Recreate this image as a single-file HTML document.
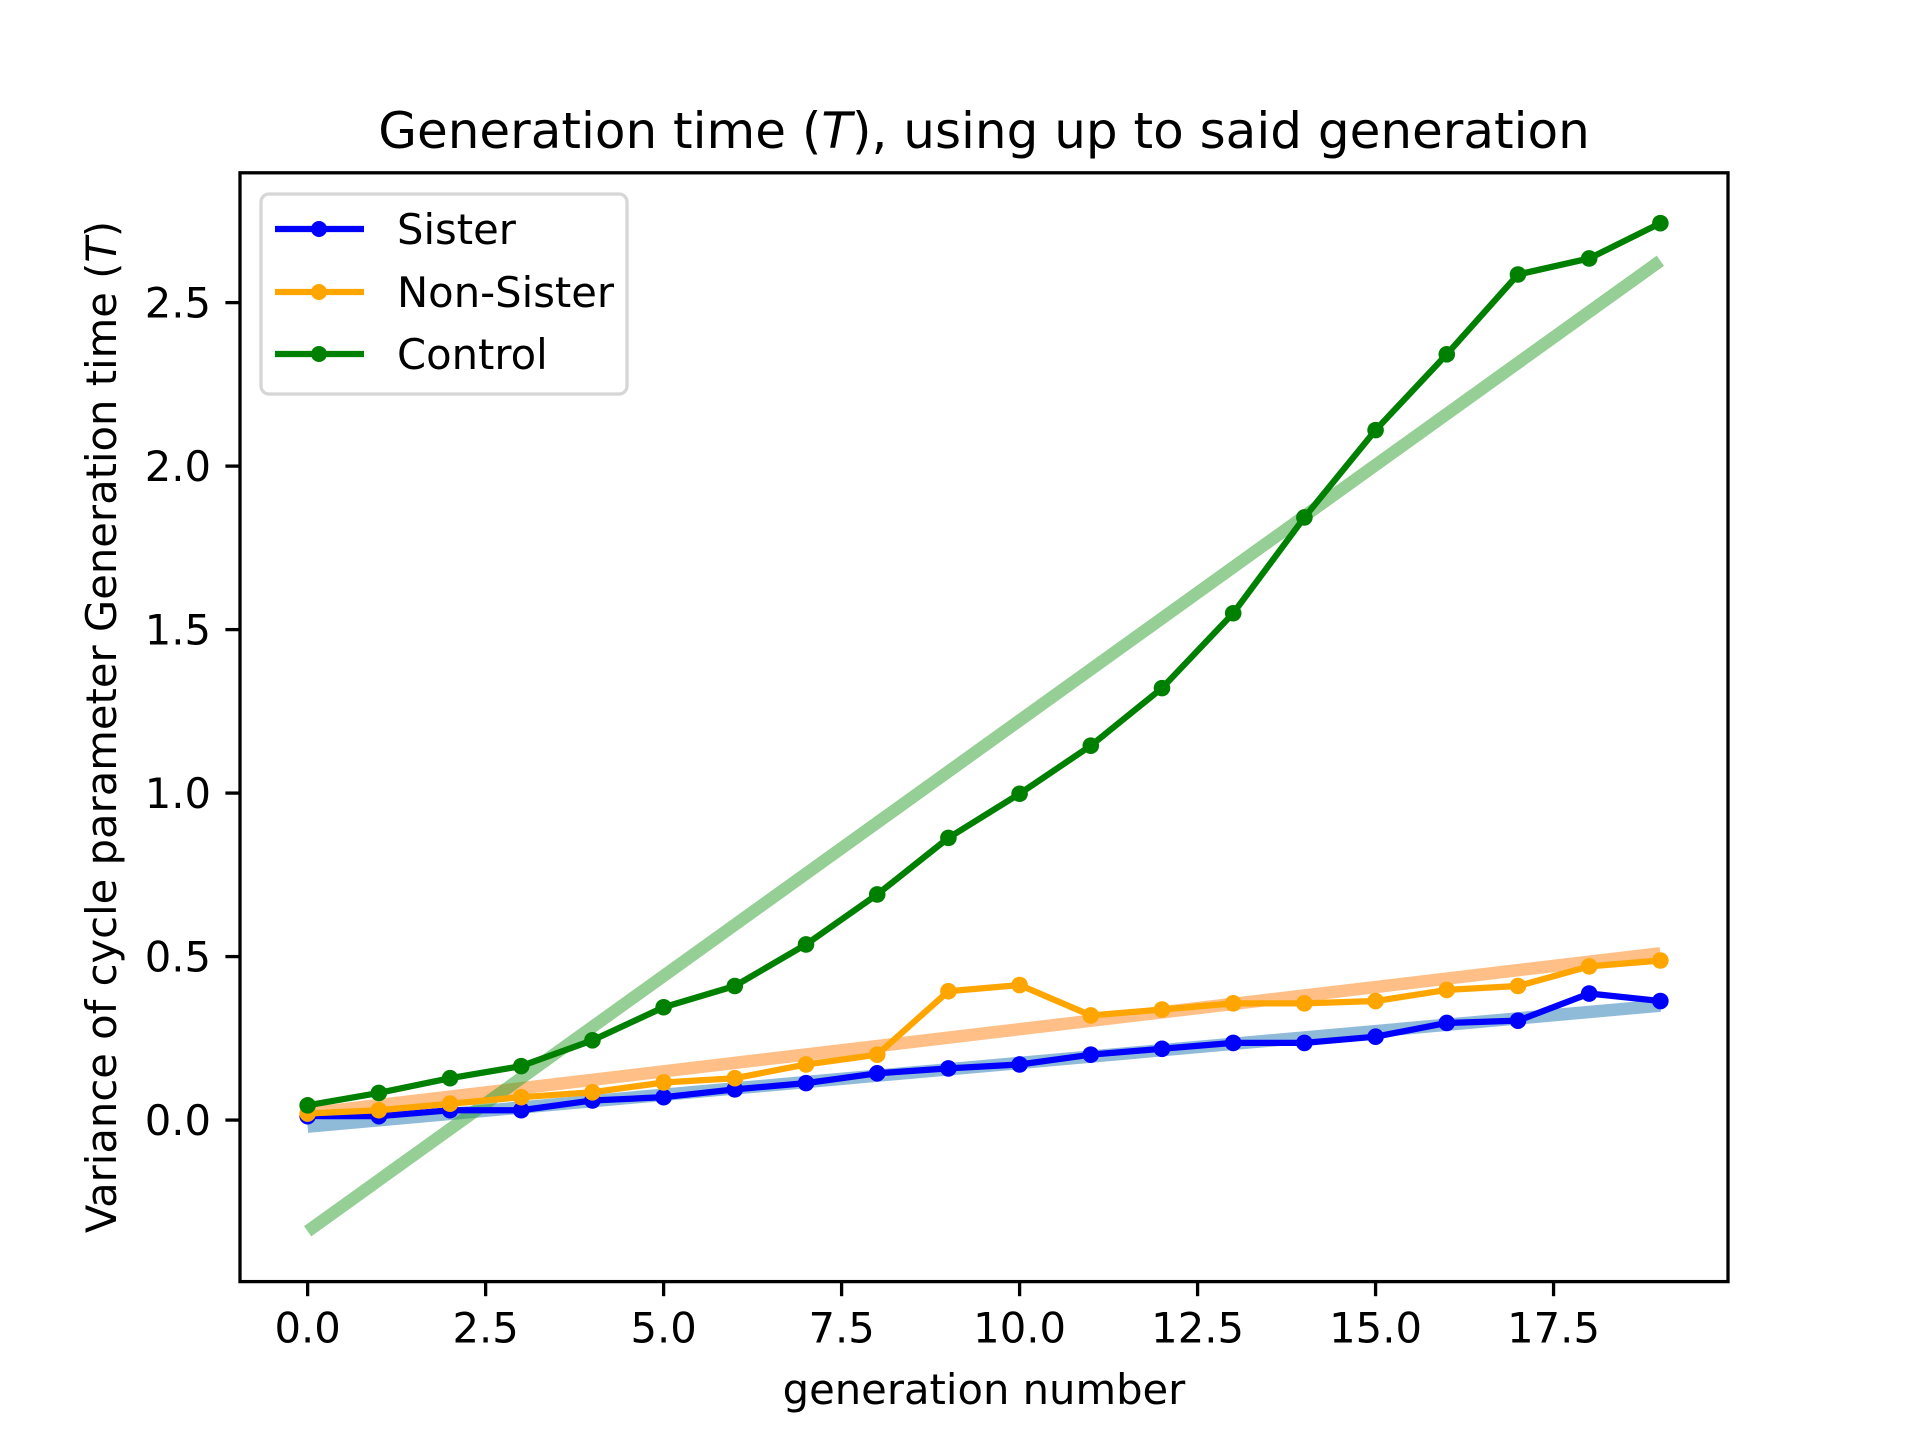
<!DOCTYPE html>
<html><head><meta charset="utf-8">
<style>
html,body{margin:0;padding:0;background:#fff;}
svg{display:block;font-family:"DejaVu Sans","Liberation Sans",sans-serif;}
</style></head>
<body>
<svg id="chart" width="1920" height="1440" viewBox="0 0 1920 1440" xmlns="http://www.w3.org/2000/svg">
<rect width="1920" height="1440" fill="#fff"/>
<text x="984" y="148" font-size="50" text-anchor="middle">Generation time (<tspan font-style="italic">T</tspan>), using up to said generation</text>
<g id="fits"></g>
<g id="series"></g>
<rect x="240" y="172.8" width="1488" height="1108.8" fill="none" stroke="#000" stroke-width="3.3"/>
<g id="xticks"></g>
<g id="yticks"></g>
<text x="984" y="1404" font-size="41.7" text-anchor="middle">generation number</text>
<text transform="translate(116,727) rotate(-90)" font-size="41.7" text-anchor="middle">Variance of cycle parameter Generation time (<tspan font-style="italic">T</tspan>)</text>
<g>
<rect x="261" y="194" width="366" height="200" rx="8" fill="#fff" fill-opacity="0.8" stroke="#d6d6d6" stroke-width="3.3"/>
<g>
<line x1="275" y1="229" x2="364" y2="229" stroke="#0000ff" stroke-width="6.25"/><circle cx="319" cy="229" r="8" fill="#0000ff"/>
<text x="397" y="244" font-size="41.7">Sister</text></g>
<g>
<line x1="275" y1="292" x2="364" y2="292" stroke="#ffa500" stroke-width="6.25"/><circle cx="319" cy="292" r="8" fill="#ffa500"/>
<text x="397" y="307" font-size="41.7">Non-Sister</text></g>
<g>
<line x1="275" y1="354" x2="364" y2="354" stroke="#008000" stroke-width="6.25"/><circle cx="319" cy="354" r="8" fill="#008000"/>
<text x="397" y="369" font-size="41.7">Control</text></g>
</g>
</svg>
<script>
const generations = [0,1,2,3,4,5,6,7,8,9,10,11,12,13,14,15,16,17,18,19];
const sisterValues = [0.012,0.012,0.03,0.03,0.06,0.07,0.094,0.113,0.143,0.158,0.17,0.2,0.218,0.236,0.236,0.255,0.297,0.304,0.387,0.364];
const nonSisterValues = [0.02,0.03,0.05,0.07,0.085,0.115,0.128,0.17,0.2,0.394,0.413,0.32,0.338,0.357,0.357,0.364,0.398,0.41,0.47,0.488];
const controlValues = [0.045,0.083,0.128,0.165,0.244,0.345,0.41,0.537,0.69,0.863,0.998,1.145,1.321,1.55,1.843,2.11,2.342,2.586,2.635,2.743];
const sisterFit = [-0.02,0.35];
const nonSisterFit = [0.02,0.51];
const controlFit = [-0.34,2.628];
const xTicks = [0,2.5,5,7.5,10,12.5,15,17.5];
const xTickLabels = ["0.0","2.5","5.0","7.5","10.0","12.5","15.0","17.5"];
const yTicks = [0,0.5,1,1.5,2,2.5];
const yTickLabels = ["0.0","0.5","1.0","1.5","2.0","2.5"];

const L=240,R=1728,T=172.8,B=1281.6;
const xMin=-0.95,xMax=19.95,yMin=-0.494,yMax=2.897;
const sx=v=>L+(v-xMin)/(xMax-xMin)*(R-L);
const sy=v=>B-(v-yMin)/(yMax-yMin)*(B-T);
const NS="http://www.w3.org/2000/svg";
function mk(tag,attrs,parent){const e=document.createElementNS(NS,tag);for(const k in attrs)e.setAttribute(k,attrs[k]);parent.appendChild(e);return e;}

const fits=document.getElementById('fits');
[[sisterFit,'#1f77b4','sister-fit-line'],[nonSisterFit,'#ff7f0e','non-sister-fit-line'],[controlFit,'#2ca02c','control-fit-line']].forEach(([f,c,n])=>{
  const l=mk('line',{x1:sx(generations[0]),y1:sy(f[0]),x2:sx(generations[generations.length-1]),y2:sy(f[1]),stroke:c,'stroke-opacity':0.5,'stroke-width':12.5},fits);
  
  
});

const ser=document.getElementById('series');
[[sisterValues,'#0000ff','sister'],[nonSisterValues,'#ffa500','non-sister'],[controlValues,'#008000','control']].forEach(([vals,c,n])=>{
  const g=mk('g',{},ser);
  
  
  const pts=vals.map((v,i)=>sx(generations[i])+','+sy(v)).join(' ');
  const pl=mk('polyline',{points:pts,fill:'none',stroke:c,'stroke-width':6.25,'stroke-linejoin':'round'},g);
  
  
  vals.forEach((v,i)=>{
    const ci=mk('circle',{cx:sx(generations[i]),cy:sy(v),r:8.3,fill:c},g);
    
    
  });
});

const xt=document.getElementById('xticks');
xTicks.forEach((v,i)=>{
  const l=mk('line',{x1:sx(v),y1:B,x2:sx(v),y2:B+14.6,stroke:'#000','stroke-width':3.3},xt);
  
  
  const t=mk('text',{x:sx(v),y:B+61,'font-size':41.7,'text-anchor':'middle'},xt);
  t.textContent=xTickLabels[i];
  
  
});
const yt=document.getElementById('yticks');
yTicks.forEach((v,i)=>{
  const l=mk('line',{x1:L-14.6,y1:sy(v),x2:L,y2:sy(v),stroke:'#000','stroke-width':3.3},yt);
  
  
  const t=mk('text',{x:L-29,y:sy(v)+15,'font-size':41.7,'text-anchor':'end'},yt);
  t.textContent=yTickLabels[i];
  
  
});
</script>
</body></html>
